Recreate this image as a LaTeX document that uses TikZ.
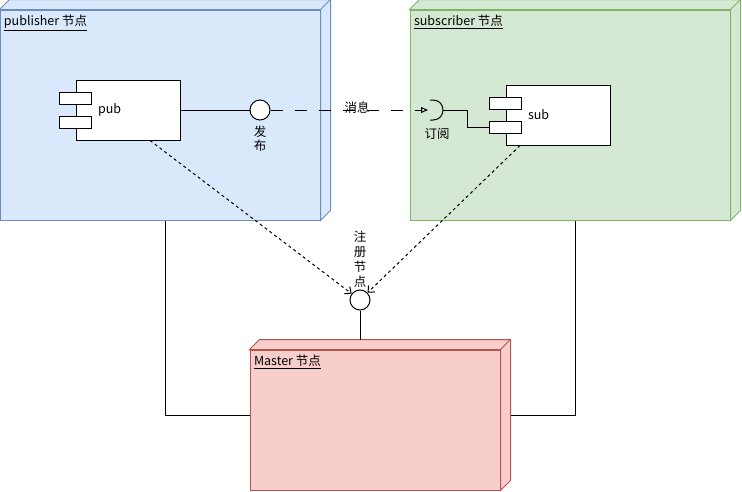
\documentclass[tikz,border=0pt]{standalone}
\usepackage{fontspec}
\setmainfont{Noto Sans CJK SC}
\usetikzlibrary{positioning, arrows.meta, calc}
\definecolor{pubfill}{HTML}{DAE8FC}
\definecolor{publine}{HTML}{6C8EBF}
\definecolor{subfill}{HTML}{D5E8D4}
\definecolor{subline}{HTML}{82B366}
\definecolor{mstfill}{HTML}{F8CECC}
\definecolor{mstline}{HTML}{B85450}
\tikzset{
  % front face of a deployment node
  deploy/.style 2 args={draw=#1, fill=#2, inner sep=0pt},
  % component box with its name on the left
  comp/.style={draw, fill=white, minimum height=60pt, text width=60pt,
               inner xsep=22pt, align=left},
  % small port rectangles on a component
  port/.style={draw, fill=white, minimum width=32pt, minimum height=12pt,
               inner sep=0pt},
  % provided interface (lollipop)
  iface/.style={circle, draw, fill=white, minimum size=20pt, inner sep=0pt},
  % underlined title of a deployment node
  title/.style={anchor=base west, inner sep=0pt},
  regarrow/.style={dashed, -{Straight Barb[length=5pt,width=9pt]}},
  msgarrow/.style={dash pattern=on 12pt off 12pt,
                   -{Triangle[open,length=7pt,width=6pt]}},
}
% top and side faces of a deployment node
\newcommand{\nodefaces}[3]{%
  \draw[draw=#2, fill=#3] (#1.north west) -- ++(10,-10)
    -| ([xshift=10pt,yshift=10pt]#1.south east) -- (#1.south east)
    -- (#1.north east) -- cycle;
  \draw[draw=#2] (#1.north east) -- ++(10,-10);}

\begin{document}
\begin{tikzpicture}[x=1pt, y=-1pt, line width=1pt,
    font=\fontsize{12.5}{14}\selectfont]
  \useasboundingbox (0,0) rectangle (742,491);

  % deployment nodes
  \node[deploy={publine}{pubfill}, minimum width=320pt, minimum height=210pt]
    (pubnode) at (160,115) {};
  \nodefaces{pubnode}{publine}{pubfill}
  \node[deploy={subline}{subfill}, minimum width=320pt, minimum height=210pt]
    (subnode) at (570,115) {};
  \nodefaces{subnode}{subline}{subfill}
  \node[deploy={mstline}{mstfill}, minimum width=250pt, minimum height=140pt]
    (master) at (375,420) {};
  \nodefaces{master}{mstline}{mstfill}

  \node[title] (pubtitle) at ([xshift=4pt,yshift=-16pt]pubnode.north west)
    {\underline{publisher 节点}};
  \node[title] (subtitle) at ([xshift=4pt,yshift=-16pt]subnode.north west)
    {\underline{subscriber 节点}};
  \node[title] (msttitle) at ([xshift=4pt,yshift=-16pt]master.north west)
    {\underline{Master 节点}};

  % components
  \node[comp] (pub) at (128,110) {pub};
  \node[port] (pubport1) at ([yshift=12pt]pub.west) {};
  \node[port] (pubport2) at ([yshift=-12pt]pub.west) {};
  \node[comp] (sub) at (558,115) {sub};
  \node[port] (subport1) at ([yshift=12pt]sub.west) {};
  \node[port] (subport2) at ([yshift=-12pt]sub.west) {};

  % interfaces
  \node[iface] (pubif) at (260,110) {};
  \node[align=center, inner sep=1pt, below=4pt of pubif] (publbl) {发\\布};
  \node[iface] (regif) at (360,300) {};
  \node[align=center, inner sep=1pt, above=1pt of regif,
        font=\fontsize{12.5}{15}\selectfont] (reglbl) {注\\册\\节\\点};
  \coordinate (sock) at (433,110);
  \draw ([xshift=-3pt,yshift=10pt]sock) -- ([yshift=10pt]sock)
    .. controls +(13.3,0) and +(13.3,0) .. ([yshift=-10pt]sock) -- ++(-3,0);
  \node (sublbl) at (437,134) {订阅};

  % connectors
  \draw (pub.east) -- (pubif);
  \draw[msgarrow] (pubif) -- ([xshift=-5pt]sock)
    node[pos=0.55, yshift=2pt, inner sep=1pt] (msglbl) {消息};
  \draw ([xshift=10pt]sock) -- ++(24,0) |- (subport2.west);
  \draw[regarrow] ([xshift=22pt]pub.south) -- (regif);
  \draw[regarrow] ([xshift=-38pt]sub.south) -- (regif);
  \coordinate (msttop) at ([yshift=10pt]master.north);
  \draw (regif.south) -- (regif |- msttop);
  \draw ([xshift=5pt]pubnode.south) |- ([yshift=5pt]master.west);
  \draw ([xshift=5pt]subnode.south) |- ([xshift=10pt,yshift=5pt]master.east);
\end{tikzpicture}
\end{document}
